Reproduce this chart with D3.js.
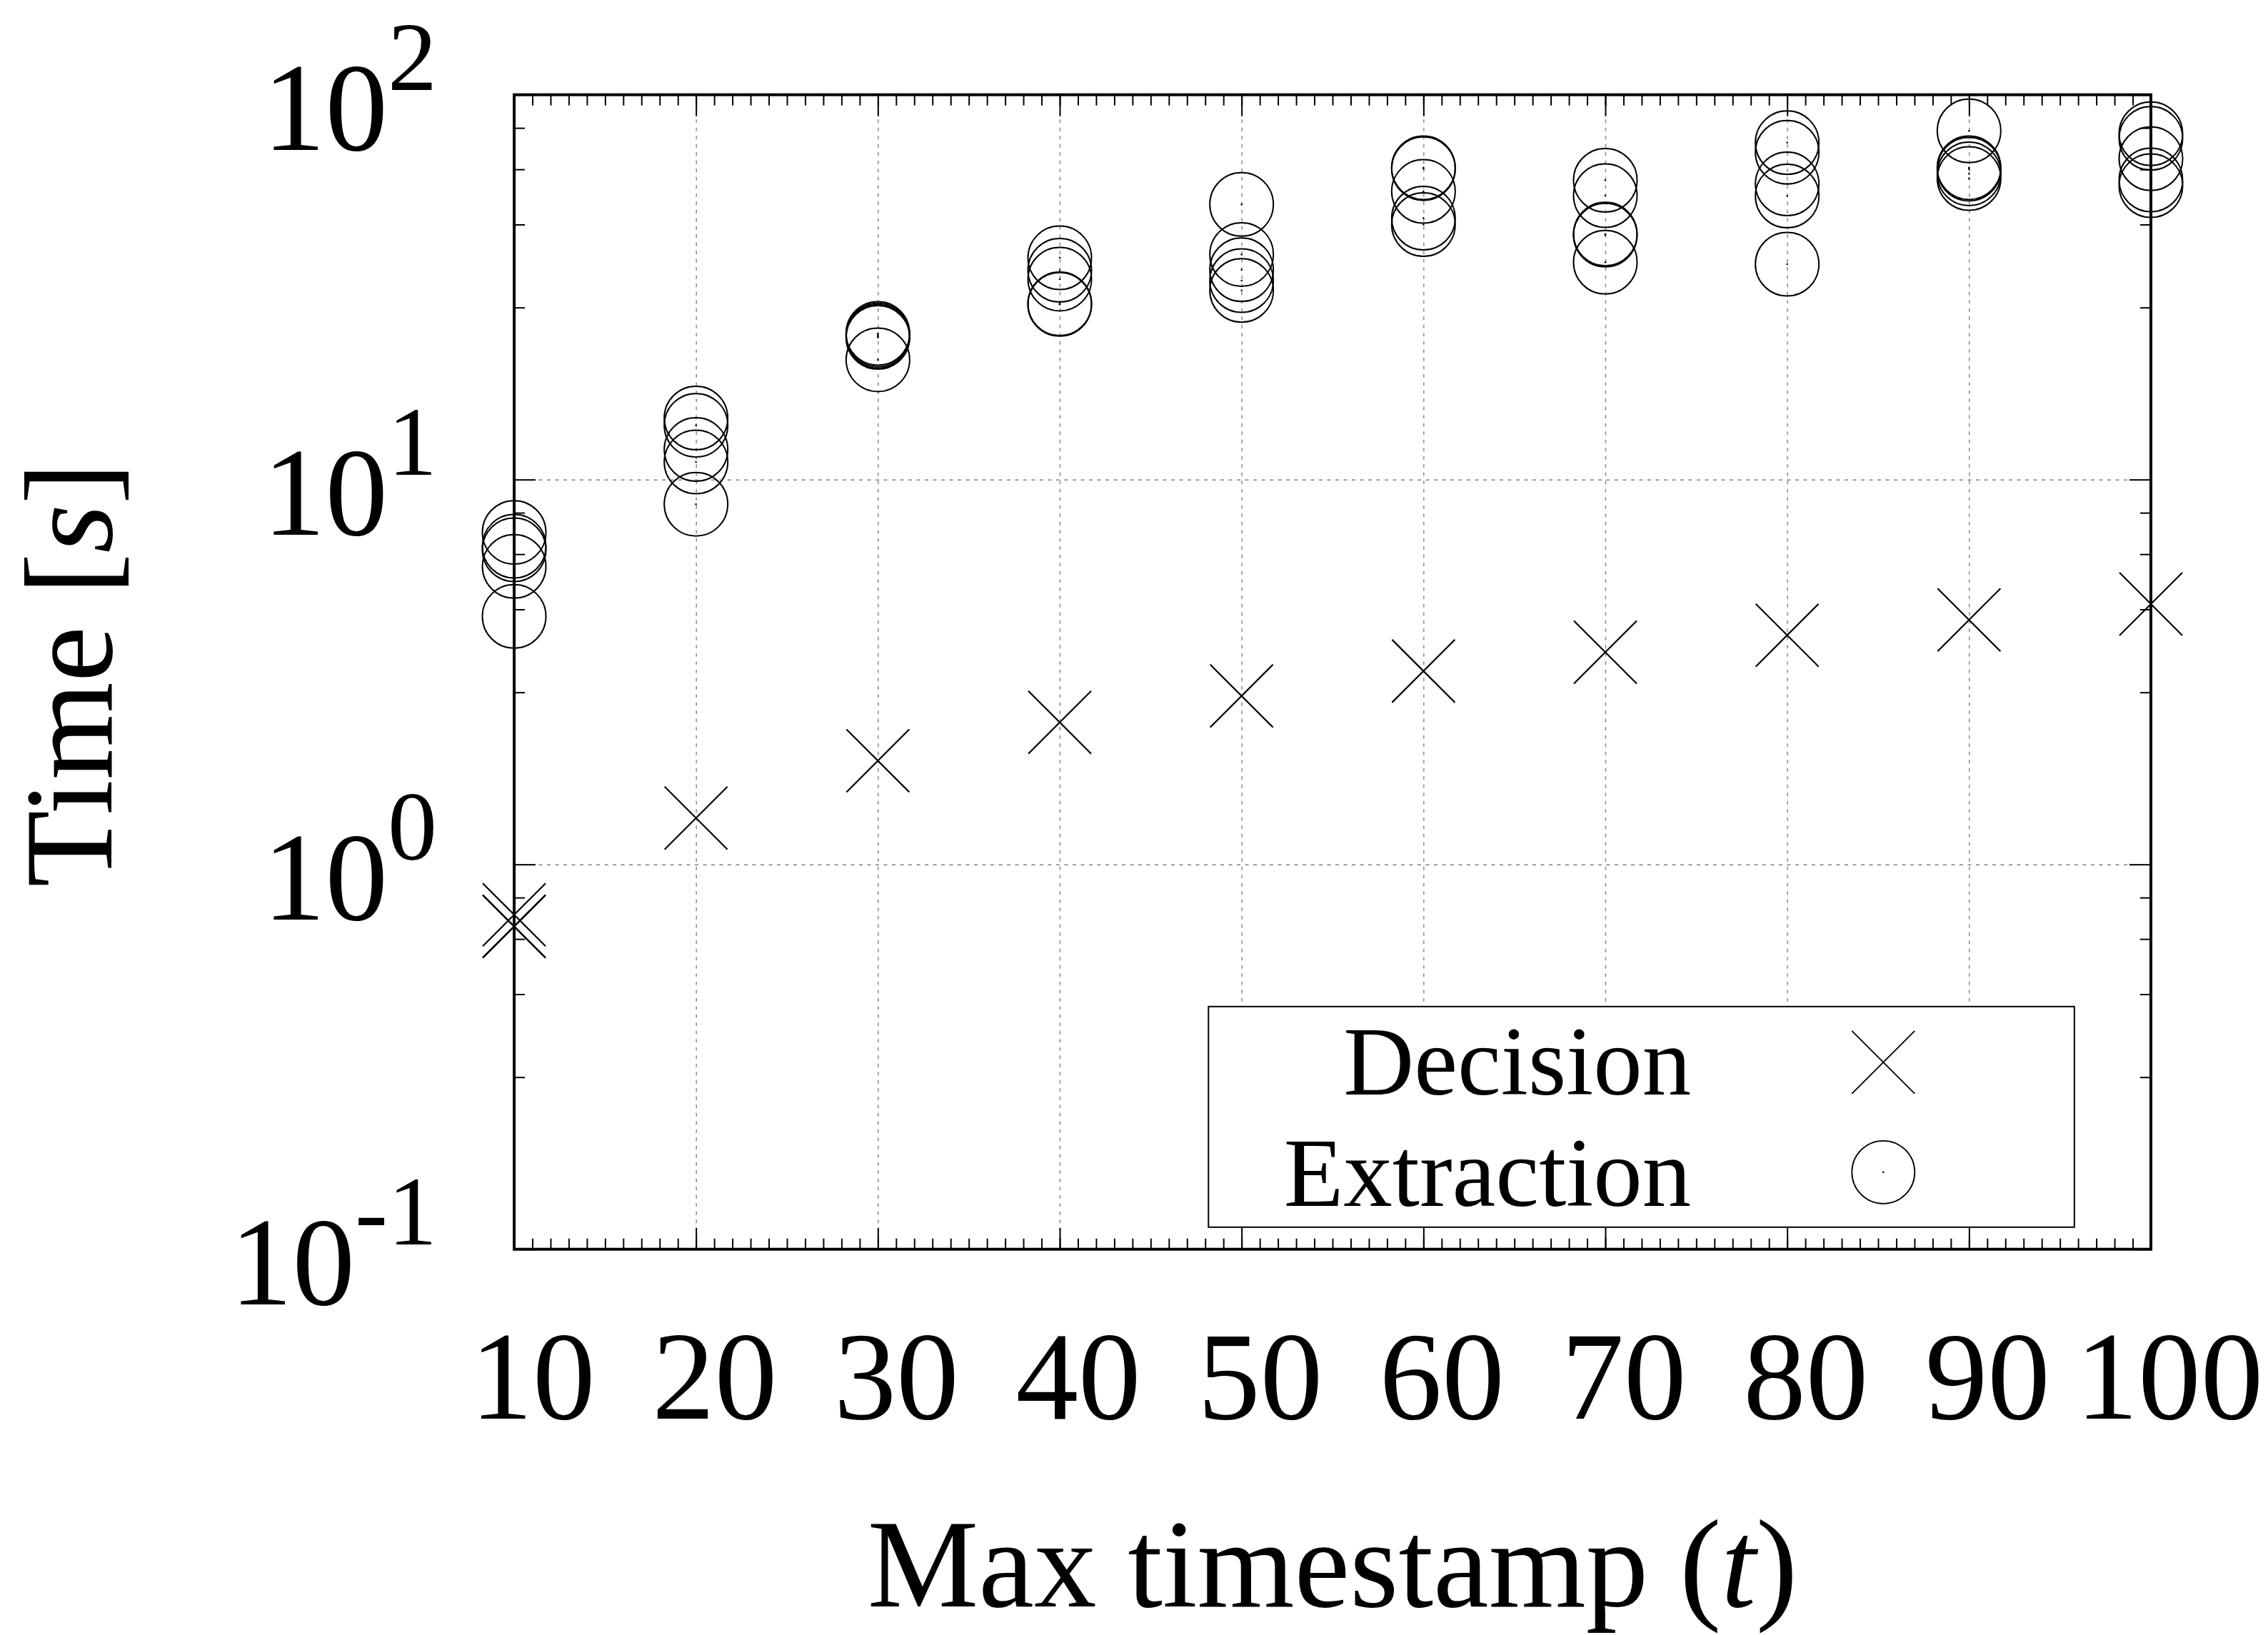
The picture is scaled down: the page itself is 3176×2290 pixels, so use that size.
<!DOCTYPE html>
<html>
<head>
<meta charset="utf-8">
<script src="https://cdn.jsdelivr.net/npm/d3@7"></script>
<style>
body { margin: 0; background: #fff; }
text { font-family: "Liberation Serif", "Times New Roman", serif; fill: #000; }
</style>
</head>
<body>
<div id="chart"></div>
<script>
// data
const timestamps = [10, 20, 30, 40, 50, 60, 70, 80, 90, 100];
const xTickLabels = ["10", "20", "30", "40", "50", "60", "70", "80", "90", "100"];

// decision time per timestamp (several runs overlap)
const decisionTimes = [
    [0.74, 0.69, 0.69],
    [1.32],
    [1.86],
    [2.34],
    [2.74],
    [3.18],
    [3.56],
    [3.94],
    [4.32],
    [4.75]
];

// extraction time per timestamp, 5 runs each
const extractionTimes = [
    [7.29, 6.71, 6.57, 5.95, 4.41],
    [14.45, 13.84, 11.97, 11.11, 8.63],
    [23.98, 23.75, 23.55, 23.41, 20.48],
    [37.70, 34.99, 33.18, 28.64, 28.52],
    [51.89, 38.46, 35.11, 32.89, 31.01],
    [64.63, 64.27, 56.09, 47.79, 45.99],
    [59.94, 54.68, 43.45, 43.18, 36.72],
    [75.07, 70.91, 58.66, 54.55, 36.28],
    [80.58, 64.63, 64.08, 62.32, 60.56],
    [79.21, 77.01, 68.22, 60.06, 58.04]
];

const yDecades = [0.1, 1, 10, 100];
const yExponents = ["-1", "0", "1", "2"];
// gnuplot style minor ticks (mytics 5 on a log axis)
const yMinorTicks = [0.28, 0.46, 0.64, 0.82, 2.8, 4.6, 6.4, 8.2, 28, 46, 64, 82];
const xMinorTicks = d3.range(10, 101, 1);
const legendLabels = ["Decision", "Extraction"];

const margin = {top: 132.7, right: 164, bottom: 540.3, left: 720};
const width = 3176 - margin.left - margin.right;
const height = 2290 - margin.top - margin.bottom;

const svg = d3.select("#chart").append("svg")
    .attr("width", 3176)
    .attr("height", 2290)
    .style("display", "block");

svg.append("rect").attr("width", 3176).attr("height", 2290).attr("fill", "#fff");

const g = svg.append("g")
    .attr("transform", "translate(" + margin.left + "," + margin.top + ")");

const x = d3.scaleLinear().domain([10, 100]).range([0, width]);
const y = d3.scaleLog().domain([0.1, 100]).range([height, 0]);

// grid
g.append("g").attr("class", "grid")
    .call(d3.axisBottom(x).tickValues(timestamps).tickSize(height).tickFormat(""));
g.append("g").attr("class", "grid")
    .call(d3.axisRight(y).tickValues(yDecades).tickSize(width).tickFormat(""));
g.selectAll(".grid .domain").remove();
g.selectAll(".grid line")
    .attr("stroke", "#808080")
    .attr("stroke-width", 1.4)
    .attr("stroke-dasharray", "5,6.5");

// ticks on all four sides, pointing inwards
function tickAxis(axis, values, size, tx, ty) {
    const a = g.append("g")
        .attr("transform", "translate(" + tx + "," + ty + ")")
        .call(axis.tickValues(values).tickSize(-size).tickFormat(""));
    a.select(".domain").remove();
    a.selectAll("line").attr("stroke", "#000").attr("stroke-width", 2);
}
tickAxis(d3.axisBottom(x), xMinorTicks, 15, 0, height);
tickAxis(d3.axisBottom(x), timestamps, 30, 0, height);
tickAxis(d3.axisTop(x), xMinorTicks, 15, 0, 0);
tickAxis(d3.axisTop(x), timestamps, 30, 0, 0);
tickAxis(d3.axisLeft(y), yMinorTicks, 15, 0, 0);
tickAxis(d3.axisLeft(y), yDecades, 30, 0, 0);
tickAxis(d3.axisRight(y), yMinorTicks, 15, width, 0);
tickAxis(d3.axisRight(y), yDecades, 30, width, 0);

// border
g.append("rect")
    .attr("width", width)
    .attr("height", height)
    .attr("fill", "none")
    .attr("stroke", "#000")
    .attr("stroke-width", 4);

// tick labels
g.selectAll(".xlabel")
    .data(timestamps)
    .enter().append("text")
    .attr("class", "xlabel")
    .attr("x", d => x(d) + 26)
    .attr("y", height + 237)
    .attr("text-anchor", "middle")
    .attr("font-size", 175)
    .text((d, i) => xTickLabels[i]);

const ylab = g.selectAll(".ylabel")
    .data(yDecades)
    .enter().append("text")
    .attr("class", "ylabel")
    .attr("x", -108)
    .attr("y", d => y(d) + 77)
    .attr("text-anchor", "end")
    .attr("font-size", 175);
ylab.append("tspan").text("10");
ylab.append("tspan")
    .attr("font-size", 138)
    .attr("dy", -84)
    .text((d, i) => yExponents[i]);

// axis titles
const xt = g.append("text")
    .attr("x", width / 2)
    .attr("y", 2250 - margin.top)
    .attr("text-anchor", "middle")
    .attr("font-size", 175);
xt.append("tspan").text("Max timestamp (");
xt.append("tspan").attr("font-style", "italic").text("t");
xt.append("tspan").text(")");

const yt = g.append("text")
    .attr("transform", "translate(-564," + (945 - margin.top) + ") rotate(-90)")
    .attr("text-anchor", "middle")
    .attr("font-size", 176);
yt.append("tspan").text("Time [");
yt.append("tspan").attr("font-style", "italic").text("s");
yt.append("tspan").text("]");

// legend (opaque box, drawn over the grid)
const legendX = 972.3, legendY = 1277.1;
const legend = g.append("g").attr("transform", "translate(" + legendX + "," + legendY + ")");
legend.append("rect")
    .attr("width", 1212.5)
    .attr("height", 309)
    .attr("fill", "#fff")
    .attr("stroke", "#000")
    .attr("stroke-width", 2);
legend.selectAll("text")
    .data(legendLabels)
    .enter().append("text")
    .attr("x", 676)
    .attr("y", (d, i) => 123 + i * 156.5)
    .attr("text-anchor", "end")
    .attr("font-size", 137)
    .text(d => d);

const crossPath = "M-44,-44L44,44M-44,44L44,-44";

legend.append("path")
    .attr("d", crossPath)
    .attr("transform", "translate(945,78)")
    .attr("fill", "none")
    .attr("stroke", "#000")
    .attr("stroke-width", 1.8);
legend.append("circle")
    .attr("cx", 945).attr("cy", 232).attr("r", 44)
    .attr("fill", "none").attr("stroke", "#000").attr("stroke-width", 1.8);
legend.append("circle")
    .attr("cx", 945).attr("cy", 232).attr("r", 1.3).attr("fill", "#000");

// points
const extractionPoints = [];
extractionTimes.forEach((runs, i) => runs.forEach(v => extractionPoints.push({t: timestamps[i], v: v})));
const decisionPoints = [];
decisionTimes.forEach((runs, i) => runs.forEach(v => decisionPoints.push({t: timestamps[i], v: v})));

g.selectAll(".ext")
    .data(extractionPoints)
    .enter().append("circle")
    .attr("class", "ext")
    .attr("cx", d => x(d.t))
    .attr("cy", d => y(d.v))
    .attr("r", 44.5)
    .attr("fill", "none")
    .attr("stroke", "#000")
    .attr("stroke-width", 2);
g.selectAll(".extdot")
    .data(extractionPoints)
    .enter().append("circle")
    .attr("class", "extdot")
    .attr("cx", d => x(d.t))
    .attr("cy", d => y(d.v))
    .attr("r", 1.3)
    .attr("fill", "#000");

g.selectAll(".dec")
    .data(decisionPoints)
    .enter().append("path")
    .attr("class", "dec")
    .attr("d", crossPath)
    .attr("transform", d => "translate(" + x(d.t) + "," + y(d.v) + ")")
    .attr("fill", "none")
    .attr("stroke", "#000")
    .attr("stroke-width", 2.2);
</script>
</body>
</html>
